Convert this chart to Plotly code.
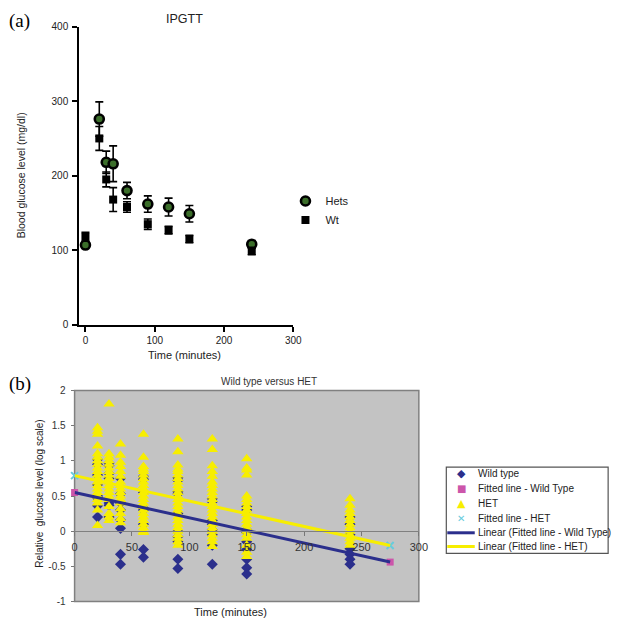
import numpy as np
import plotly.graph_objects as go

W, H = 624, 631

# ---------------- Panel (a) data: IPGTT ----------------
time_a = [0, 20, 30, 40, 60, 90, 120, 150, 240]
hets_mean = [107, 276, 218, 216, 180, 162, 158, 149, 108]
hets_err = [3, 23, 15, 24, 11, 11, 12, 11, 5]
wt_mean = [118, 250, 195, 168, 158, 135, 127, 115, 99]
wt_err = [6, 16, 10, 16, 7, 7, 5, 5, 5]
ticks_a_x = [0, 100, 200, 300]
ticks_a_y = [0, 100, 200, 300, 400]

# ---------------- Panel (b) data: relative glucose (log scale) ----------------
times_b = [20, 30, 40, 60, 90, 120, 150, 240]
wt_t20 = [1.02, 0.95, 0.80, 0.66, 0.50, 0.47, 0.36, 0.20]
wt_t30 = [0.97, 0.93, 0.82, 0.75, 0.40, 0.37, 0.20]
wt_t40 = [0.75, 0.53, 0.40, 0.30, 0.16, 0.04, -0.33, -0.47]
wt_t60 = [0.78, 0.74, 0.55, 0.33, 0.30, 0.10, -0.26, -0.37]
wt_t90 = [0.76, 0.72, 0.56, 0.53, 0.25, 0.0, -0.08, -0.15, -0.40, -0.53]
wt_t120 = [0.46, 0.42, 0.15, 0.10, 0.02, -0.05, -0.20, -0.47]
wt_t150 = [0.35, 0.30, 0.02, -0.02, -0.15, -0.26, -0.40, -0.52, -0.61]
wt_t240 = [0.20, 0.10, -0.05, -0.25, -0.33, -0.40, -0.47]

het_t20 = [1.47, 1.42, 1.38, 1.21, 1.10, 1.05, 1.00, 0.95, 0.90, 0.85, 0.80, 0.75,
           0.70, 0.65, 0.60, 0.55, 0.50, 0.45, 0.40, 0.30, 0.08]
het_t30 = [1.81, 1.10, 1.05, 1.00, 0.95, 0.90, 0.85, 0.80, 0.75, 0.70, 0.65, 0.60,
           0.55, 0.50, 0.45, 0.35, 0.25, 0.20, 0.15]
het_t40 = [1.24, 1.08, 0.98, 0.92, 0.85, 0.78, 0.70, 0.65, 0.60, 0.55, 0.50, 0.45,
           0.40, 0.32, 0.25, 0.18, 0.12]
het_t60 = [1.38, 1.05, 0.92, 0.88, 0.85, 0.80, 0.75, 0.70, 0.65, 0.60, 0.55, 0.50,
           0.45, 0.40, 0.35, 0.30, 0.25, 0.20, 0.15, 0.10, 0.05, 0.0, -0.02]
het_t90 = [1.31, 1.13, 0.94, 0.88, 0.85, 0.80, 0.75, 0.70, 0.65, 0.60, 0.55, 0.50,
           0.45, 0.40, 0.35, 0.30, 0.25, 0.20, 0.15, 0.10, 0.05, 0.0, -0.05, -0.10,
           -0.15, -0.20]
het_t120 = [1.31, 1.16, 0.93, 0.85, 0.78, 0.70, 0.65, 0.60, 0.55, 0.50, 0.45, 0.40,
            0.35, 0.30, 0.25, 0.20, 0.15, 0.10, 0.05, 0.0, -0.05, -0.10, -0.15, -0.22]
het_t150 = [1.03, 0.90, 0.87, 0.80, 0.50, 0.45, 0.40, 0.35, 0.30, 0.25, 0.20, 0.15,
            0.10, 0.05, 0.0, -0.05, -0.10, -0.20, -0.30, -0.36]
het_t240 = [0.46, 0.37, 0.30, 0.25, 0.20, 0.15, 0.10, 0.05, 0.0, -0.05, -0.10, -0.15, -0.20]

fit_x = [0, 275]
fit_wt_y = [0.55, -0.44]
fit_het_y = [0.79, -0.205]
ticks_b_x = [0, 50, 100, 150, 200, 250, 300]
ticks_b_y = [-1, -0.5, 0, 0.5, 1, 1.5, 2]
legend_b_labels = ["Wild type", "Fitted line - Wild Type", "HET", "Fitted line - HET",
                   "Linear (Fitted line - Wild Type)", "Linear (Fitted line - HET)"]

wt_groups = [wt_t20, wt_t30, wt_t40, wt_t60, wt_t90, wt_t120, wt_t150, wt_t240]
het_groups = [het_t20, het_t30, het_t40, het_t60, het_t90, het_t120, het_t150, het_t240]
wt_x = [t for t, g in zip(times_b, wt_groups) for _ in g]
wt_y = [v for g in wt_groups for v in g]
het_x = [t for t, g in zip(times_b, het_groups) for _ in g]
het_y = [v for g in het_groups for v in g]

# linear trendlines through the fitted-line points
wt_coef = np.polyfit(fit_x, fit_wt_y, 1)
het_coef = np.polyfit(fit_x, fit_het_y, 1)
trend_x = np.array([min(fit_x), max(fit_x)])

NAVY = "#2b2f8c"
YELLOW = "#f7ee00"
PINK = "#cc55aa"
CYAN = "#66ccdd"
PANEL_GRAY = "#c3c3c3"
FONT = "Liberation Sans, Arial, sans-serif"

fig = go.Figure()

# Panel (a)
fig.add_trace(go.Scatter(
    x=time_a, y=hets_mean, mode="markers", name="Hets",
    error_y=dict(type="data", array=hets_err, color="black", thickness=1.6, width=4),
    marker=dict(symbol="circle", size=9, color="#3b6e2a", line=dict(color="black", width=2.6)),
    cliponaxis=False, xaxis="x", yaxis="y", legend="legend"))
fig.add_trace(go.Scatter(
    x=time_a, y=wt_mean, mode="markers", name="Wt",
    error_y=dict(type="data", array=wt_err, color="black", thickness=1.6, width=4),
    marker=dict(symbol="square", size=8, color="black"),
    cliponaxis=False, xaxis="x", yaxis="y", legend="legend"))

# Panel (b)
fig.add_trace(go.Scatter(
    x=wt_x, y=wt_y, mode="markers", name=legend_b_labels[0],
    marker=dict(symbol="diamond", size=8.5, color=NAVY),
    showlegend=False, xaxis="x2", yaxis="y2"))
fig.add_trace(go.Scatter(
    x=fit_x, y=fit_wt_y, mode="markers", name=legend_b_labels[1],
    marker=dict(symbol="square", size=7, color=PINK), cliponaxis=False,
    showlegend=False, xaxis="x2", yaxis="y2"))
fig.add_trace(go.Scatter(
    x=het_x, y=het_y, mode="markers", name=legend_b_labels[2],
    marker=dict(symbol="triangle-up", size=10, color=YELLOW),
    showlegend=False, xaxis="x2", yaxis="y2"))
fig.add_trace(go.Scatter(
    x=fit_x, y=fit_het_y, mode="markers", name=legend_b_labels[3],
    marker=dict(symbol="x-thin", size=7, color=CYAN, line=dict(color=CYAN, width=2)),
    cliponaxis=False, showlegend=False, xaxis="x2", yaxis="y2"))
fig.add_trace(go.Scatter(
    x=trend_x, y=np.polyval(wt_coef, trend_x), mode="lines",
    name=legend_b_labels[4], line=dict(color=NAVY, width=3),
    showlegend=False, xaxis="x2", yaxis="y2"))
fig.add_trace(go.Scatter(
    x=trend_x, y=np.polyval(het_coef, trend_x), mode="lines",
    name=legend_b_labels[5], line=dict(color=YELLOW, width=3),
    showlegend=False, xaxis="x2", yaxis="y2"))

# geometry (pixels -> paper)
ax_l, ax_r, ay_t, ay_b = 77.7, 296.0, 21.0, 325.0
bx_l, bx_r, by_t, by_b = 73.0, 424.0, 392.0, 607.0
zero_py = by_t + (by_b - by_t) * 2 / 3

fig.update_layout(
    width=W, height=H,
    margin=dict(l=0, r=0, t=0, b=0),
    paper_bgcolor="white",
    plot_bgcolor="white",
    font=dict(family=FONT, color="#222"),
    xaxis=dict(domain=[ax_l / W, ax_r / W], range=[-9, 300], anchor="y",
               tickvals=ticks_a_x, ticks="outside", ticklen=5, tickwidth=2, tickcolor="black",
               showline=True, linecolor="black", linewidth=2, showgrid=False, zeroline=False,
               ticklabelstandoff=0, tickfont=dict(size=10, color="#222")),
    yaxis=dict(domain=[1 - ay_b / H, 1 - ay_t / H], range=[0, 400], anchor="x",
               tickvals=ticks_a_y, ticks="outside", ticklen=5, tickwidth=2, tickcolor="black",
               showline=True, linecolor="black", linewidth=2, showgrid=False, zeroline=False,
               ticklabelstandoff=2, tickfont=dict(size=10, color="#222")),
    xaxis2=dict(domain=[bx_l / W, bx_r / W], range=[0, 300], anchor="free",
                position=1 - zero_py / H,
                tickvals=ticks_b_x, ticks="outside", ticklen=4, tickwidth=1, tickcolor="#777",
                showline=True, linecolor="#808080", linewidth=1, showgrid=False, zeroline=False,
                ticklabelstandoff=2, tickfont=dict(size=11, color="#333")),
    yaxis2=dict(domain=[1 - by_b / H, 1 - by_t / H], range=[-1, 2], anchor="x2",
                tickvals=ticks_b_y, ticktext=["-1", "-0.5", "0", "0.5", "1", "1.5", "2"],
                ticks="outside", ticklen=3, tickwidth=1, tickcolor="#777",
                showline=False, showgrid=False, zeroline=False,
                ticklabelstandoff=3, tickfont=dict(size=10, color="#333")),
    legend=dict(x=288 / W, y=1 - 184 / H, xanchor="left", yanchor="top",
                bgcolor="rgba(0,0,0,0)", font=dict(size=11, color="#222"),
                tracegroupgap=0),
    showlegend=True,
)

# panel (b) gray plot area with border
fig.add_shape(type="rect", xref="x2 domain", yref="y2 domain", x0=0, x1=1, y0=0, y1=1,
              line=dict(color="#808080", width=1.5), fillcolor=PANEL_GRAY, layer="below")

# panel (b) legend box (Excel style)
lg_l, lg_r, lg_t, lg_b = 452, 617, 470, 558
fig.add_shape(type="rect", xref="paper", yref="paper",
              x0=lg_l / W, x1=lg_r / W, y0=1 - lg_b / H, y1=1 - lg_t / H,
              line=dict(color="#555", width=1.2), fillcolor="white")
row_y = [477, 492, 507, 522, 537, 551]
sym = [("\u25C6", NAVY, 11), ("\u25A0", PINK, 10), ("\u25B2", YELLOW, 11), ("\u2715", CYAN, 10)]
for i, (s, c, fs) in enumerate(sym):
    fig.add_annotation(xref="paper", yref="paper", x=467 / W, y=1 - row_y[i] / H,
                       text=s, showarrow=False, xanchor="center", yanchor="middle",
                       font=dict(family="DejaVu Sans", size=fs, color=c))
for i, c in [(4, NAVY), (5, YELLOW)]:
    fig.add_shape(type="line", xref="paper", yref="paper",
                  x0=453 / W, x1=481 / W, y0=1 - row_y[i] / H, y1=1 - row_y[i] / H,
                  line=dict(color=c, width=3))
for i, lab in enumerate(legend_b_labels):
    fig.add_annotation(xref="paper", yref="paper", x=482 / W, y=1 - row_y[i] / H,
                       text=lab, showarrow=False, xanchor="left", yanchor="middle",
                       font=dict(size=10, color="#222"))

ann = [
    dict(text="(a)", x=17 / W, y=1 - 15 / H, font=dict(family="Liberation Serif, Times New Roman, serif", size=19, color="black")),
    dict(text="(b)", x=17 / W, y=1 - 385 / H, font=dict(family="Liberation Serif, Times New Roman, serif", size=19, color="black")),
    dict(text="IPGTT", x=185 / W, y=1 - 13 / H, font=dict(size=12.5, color="#222")),
    dict(text="Time (minutes)", x=185 / W, y=1 - 356 / H, font=dict(size=11, color="#222")),
    dict(text="Blood glucose level (mg/dl)", x=18 / W, y=1 - 173 / H, textangle=-90, font=dict(size=10.5, color="#222")),
    dict(text="Wild type versus HET", x=271 / W, y=1 - 383 / H, font=dict(size=10, color="#333")),
    dict(text="Time (minutes)", x=232 / W, y=1 - 618 / H, font=dict(size=11, color="#222")),
    dict(text="Relative  glucose level (log scale)", x=37 / W, y=1 - 497 / H, textangle=-90, font=dict(size=10, color="#222")),
]
for a in ann:
    fig.add_annotation(xref="paper", yref="paper", showarrow=False, xanchor="center", yanchor="middle", **a)

fig.write_html("out.html", config={"displayModeBar": False},
               post_script="document.body.style.margin='0px';")
